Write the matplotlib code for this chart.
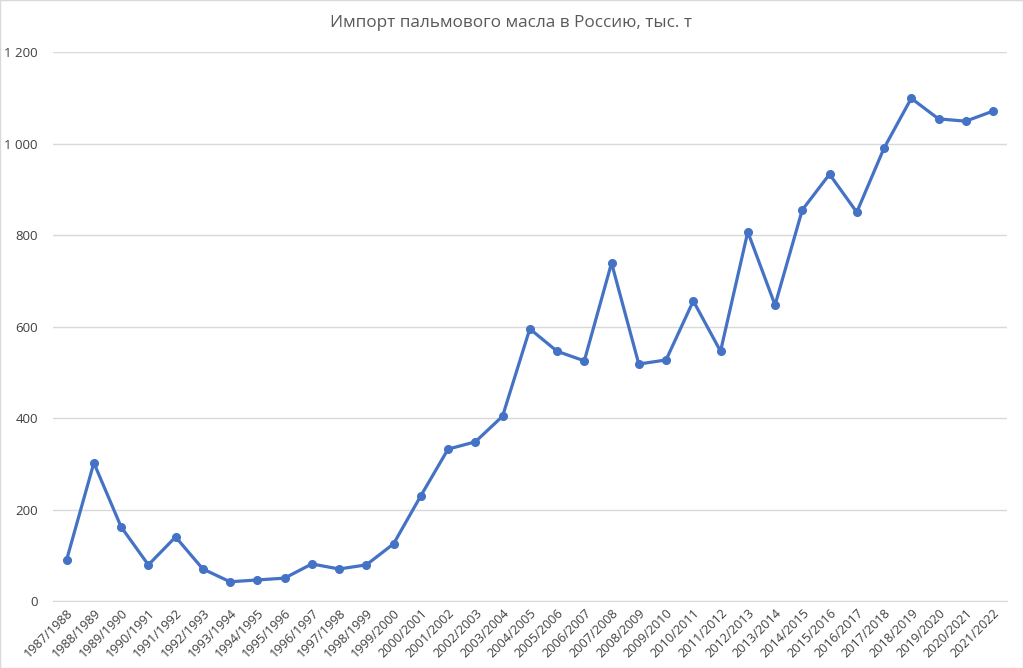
import matplotlib
matplotlib.use("Agg")
import matplotlib.pyplot as plt
import matplotlib.ticker as mticker

plt.rcParams['font.family'] = ['Open Sans', 'DejaVu Sans']

seasons = [f"{y}/{y+1}" for y in range(1987, 2022)]
imports = [90, 302, 162, 79, 140, 70, 42, 46, 50, 81, 70, 79, 125, 230, 332,
           348, 404, 595, 546, 525, 739, 518, 527, 656, 546, 807, 647, 855,
           933, 850, 990, 1099, 1054, 1049, 1071]

fig = plt.figure(figsize=(10.23, 6.68), dpi=100)
ax = fig.add_axes([0.0518, 0.1003, 0.9322, 0.8217])
x = range(len(seasons))
ax.plot(x, imports, '-o', color='#4472C4', linewidth=2.3, markersize=5.5)

ax.set_xlim(-0.5, len(seasons) - 0.5)
ax.set_ylim(0, 1200)
ax.set_yticks(range(0, 1201, 200))
ax.yaxis.set_major_formatter(mticker.FuncFormatter(lambda v, p: f"{int(v):,}".replace(",", " ")))
ax.set_xticks(list(x))
ax.set_xticklabels(seasons, rotation=45, ha='right', rotation_mode='anchor', fontsize=9.2, color='#404040')
ax.tick_params(axis='y', labelsize=9.5, labelcolor='#404040', length=0, pad=11)
ax.tick_params(axis='x', length=0, pad=4)
ax.grid(axis='y', color='#D9D9D9', linewidth=1)
ax.set_axisbelow(True)
for s in ['top', 'right', 'left']:
    ax.spines[s].set_visible(False)
ax.spines['bottom'].set_color('#D9D9D9')

fig.text(0.5, 0.965, "Импорт пальмового масла в Россию, тыс. т", ha='center', va='center',
         fontsize=12.3, color='#595959')
fig.patches.append(plt.Rectangle((0, 0), 1, 1, transform=fig.transFigure, fill=False,
                                 edgecolor='#D9D9D9', linewidth=1))
fig.savefig("out.png", dpi=100)
